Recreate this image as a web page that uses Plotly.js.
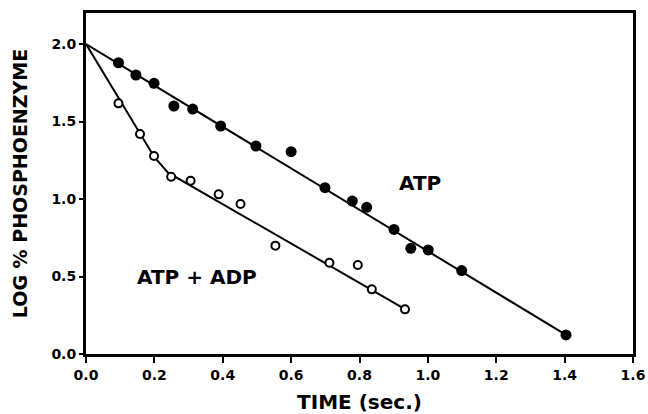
<!DOCTYPE html>
<html>
<head>
<meta charset="utf-8">
<script src="https://cdn.plot.ly/plotly-3.0.1.min.js"></script>
<style>html,body{margin:0;padding:0;background:#fff;}#chart{width:648px;height:414px;}</style>
</head>
<body>
<div id="chart"></div>
<script>
// ATP (filled circles)
var atpTime = [0.095, 0.146, 0.199, 0.257, 0.312, 0.394, 0.497, 0.600, 0.699, 0.779, 0.821, 0.901, 0.950, 1.001, 1.099, 1.404];
var atpLog  = [1.879, 1.800, 1.746, 1.600, 1.580, 1.471, 1.342, 1.305, 1.073, 0.987, 0.946, 0.804, 0.682, 0.671, 0.538, 0.123];
// ATP + ADP (open circles)
var adpTime = [0.095, 0.158, 0.199, 0.249, 0.306, 0.388, 0.452, 0.554, 0.712, 0.795, 0.836, 0.933];
var adpLog  = [1.617, 1.419, 1.277, 1.144, 1.118, 1.030, 0.968, 0.699, 0.589, 0.574, 0.417, 0.288];
// fitted lines
var atpFitTime = [0, 1.404];
var atpFitLog  = [2.0, 0.123];
var adpFitTime = [0, 0.2, 0.24, 0.933];
var adpFitLog  = [2.0, 1.27, 1.17, 0.29];

var xTicks = [0, 0.2, 0.4, 0.6, 0.8, 1.0, 1.2, 1.4, 1.6];
var xTickText = ['0.0','0.2','0.4','0.6','0.8','1.0','1.2','1.4','1.6'];
var yTicks = [0, 0.5, 1.0, 1.5, 2.0];
var yTickText = ['0.0','0.5','1.0','1.5','2.0'];

var F = 'DejaVu Sans, Arial, sans-serif';

var traces = [
  {x: atpFitTime, y: atpFitLog, mode: 'lines', line: {color: '#000', width: 2}, hoverinfo: 'skip'},
  {x: adpFitTime, y: adpFitLog, mode: 'lines', line: {color: '#000', width: 2}, hoverinfo: 'skip'},
  {x: atpTime, y: atpLog, mode: 'markers', marker: {symbol: 'circle', size: 11, color: '#000'}},
  {x: adpTime, y: adpLog, mode: 'markers', marker: {symbol: 'circle', size: 8, color: '#fff', line: {color: '#000', width: 2}}}
];

var layout = {
  width: 648, height: 414,
  margin: {l: 86, r: 15, t: 13, b: 60},
  paper_bgcolor: '#fff', plot_bgcolor: '#fff',
  showlegend: false,
  font: {family: F, color: '#000'},
  xaxis: {
    range: [0, 1.6], tickvals: xTicks, ticktext: xTickText,
    showgrid: false, zeroline: false,
    showline: true, linewidth: 3, linecolor: '#000', mirror: true,
    ticks: 'outside', ticklen: 6, tickwidth: 2, tickcolor: '#000',
    tickfont: {family: F, size: 14, color: '#000', weight: 'bold'},
    title: {text: 'TIME (sec.)', font: {family: F, size: 20, color: '#000', weight: 'bold'}, standoff: 14}
  },
  yaxis: {
    range: [0, 2.2], tickvals: yTicks, ticktext: yTickText,
    showgrid: false, zeroline: false,
    showline: true, linewidth: 3, linecolor: '#000', mirror: true,
    ticks: 'outside', ticklen: 4, tickwidth: 2, tickcolor: '#000',
    tickfont: {family: F, size: 14, color: '#000', weight: 'bold'},
    title: {text: 'LOG % PHOSPHOENZYME', font: {family: F, size: 19, color: '#000', weight: 'bold'}, standoff: 19}
  },
  annotations: [
    {x: 0.977, y: 1.103, xref: 'x', yref: 'y', text: 'ATP', showarrow: false, font: {family: F, size: 20, color: '#000', weight: 'bold'}},
    {x: 0.325, y: 0.497, xref: 'x', yref: 'y', text: 'ATP + ADP', showarrow: false, font: {family: F, size: 20, color: '#000', weight: 'bold'}}
  ]
};

Plotly.newPlot('chart', traces, layout, {displayModeBar: false, staticPlot: true});
</script>
</body>
</html>
